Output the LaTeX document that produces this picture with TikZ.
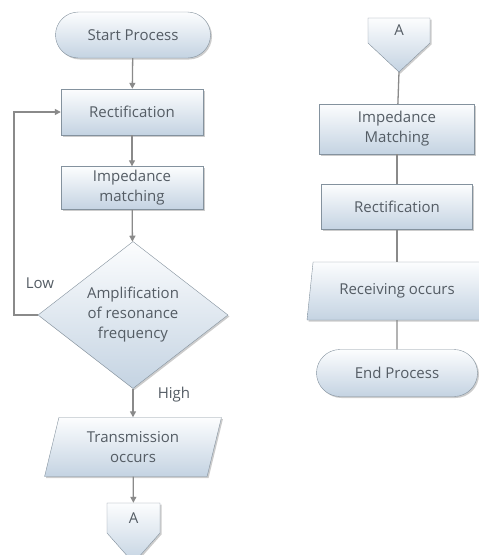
\documentclass[tikz,border=0pt]{standalone}
\usepackage[RGB]{xcolor}
\usepackage{fontspec}
\setmainfont{Open Sans}
\usetikzlibrary{shapes.geometric,shapes.misc,arrows.meta,shadows}
\definecolor{B}{RGB}{132,146,158}
\definecolor{T}{RGB}{252,253,254}
\definecolor{F}{RGB}{196,211,226}
\definecolor{W}{RGB}{84,92,100}
\definecolor{C}{RGB}{138,138,138}
\newcommand{\drawflow}{\draw[flow]}
% off-page sign: name, x, top, half width, body, pointer
\newcommand{\pagesign}[6]{
  \path[pageshape] (#2-#4,#3)--++({2*#4},0)--++(0,#5)--++(-#4,#6)--++(-#4,-#6)--cycle;
  \node[pagetext, minimum width={2*#4}, minimum height=#5] (#1) at (#2,#3+#5/2) {A};
  \coordinate (#1tip) at (#2,#3+#5+#6);
}
\tikzset{
  box/.style={draw=B, top color=T, bottom color=F, text=W, align=center,
    inner sep=0pt, font=\fontsize{15}{20}\selectfont,
    drop shadow={shadow xshift=1.5pt, shadow yshift=-1.5pt, opacity=0.2, fill=black}},
  procbox/.style={box, rectangle, minimum width=#1, minimum height=46},
  termbox/.style={box, rounded rectangle, minimum width=#1, minimum height=46},
  iobox/.style={box, trapezium, trapezium left angle=74, trapezium right angle=106,
    trapezium stretches=true, minimum width=#1, minimum height=58},
  decbox/.style={box, diamond, minimum width=190, minimum height=140},
  pageshape/.style={draw=B, top color=T, bottom color=F,
    drop shadow={shadow xshift=1.5pt, shadow yshift=-1.5pt, opacity=0.2, fill=black}},
  pagetext/.style={text=W, inner sep=0pt, font=\fontsize{15}{20}\selectfont},
  flow/.style={draw=C, line width=1.3pt, -{Triangle[length=6pt,width=6pt]}},
  link/.style={draw=C, line width=1.3pt},
  lbl/.style={text=W, font=\fontsize{15}{20}\selectfont}
}
\begin{document}
\begin{tikzpicture}[x=1pt,y=-1pt]
\useasboundingbox (0,0) rectangle (479,555);
\clip (0,0) rectangle (479,555);
% left column
\node[termbox=155] (start) at (133,35) {Start Process};
\node[procbox=142] (rectL) at (132,112) {Rectification};
\node[procbox=142, minimum height=43] (impL) at (132,188) {Impedance\\matching};
\node[decbox] (amp) at (133,315) {Amplification\\of resonance\\frequency};
\node[iobox=177, minimum height=59] (trans) at (133,447) {Transmission\\occurs};
\pagesign{pageL}{133.5}{503}{26.5}{30}{30}
\coordinate (loop) at (14,0);
\drawflow (start) -- (rectL);
\drawflow (rectL) -- (impL);
\drawflow (impL) -- (amp);
\drawflow (amp) -- (trans);
\drawflow (trans) -- (pageL);
\drawflow (amp.west) -- (amp.west -| loop) |- (rectL.west);
\node[lbl] (low) at (40,283) {Low};
\node[lbl] (high) at (174,395) {High};
% right column
\pagesign{pageR}{399}{18}{31}{25}{29}
\node[procbox=155, minimum height=50] (impR) at (397,129) {Impedance\\Matching};
\node[procbox=151, minimum height=45] (rectR) at (397,207) {Rectification};
\node[iobox=180] (recv) at (397,291) {Receiving occurs};
\node[termbox=161, minimum height=47] (endp) at (397,373) {End Process};
\draw[link] (pageRtip) -- (impR);
\draw[link] (impR) -- (rectR);
\draw[link] (rectR) -- (recv);
\draw[link] (recv) -- (endp);
\end{tikzpicture}
\end{document}
